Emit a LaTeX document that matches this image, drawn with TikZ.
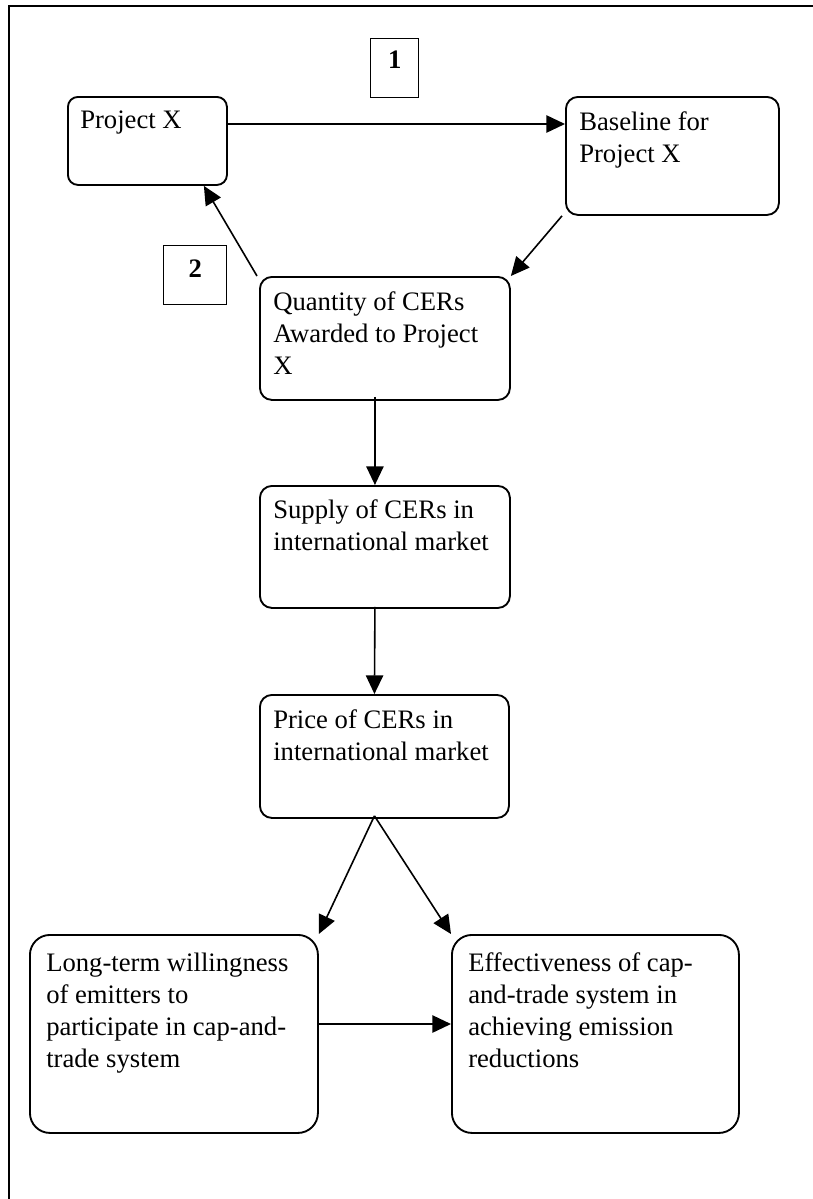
\documentclass[tikz,border=0pt]{standalone}
\usepackage{fontspec}
\setmainfont{Liberation Serif}
\usetikzlibrary{arrows.meta,calc}
\newcommand{\boxtxt}[1]{\parbox[t]{300pt}{\raggedright\fontsize{20}{24}\selectfont #1}}
\begin{document}
\begin{tikzpicture}[x=0.75pt,y=-0.75pt,
  frameline/.style={line width=1.3pt},
  box/.style={draw, line width=1.4pt, rounded corners=#1, inner sep=0pt, anchor=north west},
  lbl/.style={anchor=base west, inner sep=0pt},
  numbox/.style={draw, line width=1pt, inner sep=0pt, anchor=north west},
  numtxt/.style={anchor=base, inner sep=0pt, font=\fontsize{20}{24}\selectfont\bfseries},
  arr/.style={line width=1.2pt, -{Triangle[length=14pt,width=13pt]}}]
\useasboundingbox (0,0) rectangle (813,1199);
\fill[white] (0,0) rectangle (813,1199);
% frame
\coordinate (frtr) at (813,6);
\coordinate (frtl) at (9,6);
\coordinate (frbl) at (9,1199);
\draw[frameline] (frtr) -- (frtl) -- (frbl);
% boxes
\node[box=7.5pt, minimum width=159*0.75pt, minimum height=88*0.75pt] (px) at (67,96) {};
\node[box=9pt, minimum width=213*0.75pt, minimum height=118*0.75pt] (bl) at (565,96) {};
\node[box=9pt, minimum width=250*0.75pt, minimum height=123*0.75pt] (q) at (259,276) {};
\node[box=9pt, minimum width=250*0.75pt, minimum height=122*0.75pt] (s) at (259,485) {};
\node[box=9pt, minimum width=249*0.75pt, minimum height=123*0.75pt] (p) at (259,694) {};
\node[box=15pt, minimum width=288*0.75pt, minimum height=198*0.75pt] (lt) at (29,934) {};
\node[box=15pt, minimum width=287*0.75pt, minimum height=198*0.75pt] (ef) at (451,934) {};
\node[numbox, minimum width=48*0.75pt, minimum height=59*0.75pt] (n1) at (370,38) {};
\node[numbox, minimum width=63*0.75pt, minimum height=59*0.75pt] (n2) at (163,245) {};
% texts
\node[lbl] (pxt) at ($(px.north west)+(13,32)$) {\boxtxt{Project X}};
\node[lbl] (blt) at ($(bl.north west)+(14,34)$) {\boxtxt{Baseline for\\Project X}};
\node[lbl] (qt) at ($(q.north west)+(14,34)$) {\boxtxt{Quantity of CERs\\Awarded to Project\\X}};
\node[lbl] (st) at ($(s.north west)+(14,33)$) {\boxtxt{Supply of CERs in\\international market}};
\node[lbl] (pt) at ($(p.north west)+(14,34)$) {\boxtxt{Price of CERs in\\international market}};
\node[lbl] (ltt) at ($(lt.north west)+(17,37)$) {\boxtxt{Long-term willingness\\of emitters to\\participate in cap-and-\\trade system}};
\node[lbl] (eft) at ($(ef.north west)+(17,37)$) {\boxtxt{Effectiveness of cap-\\and-trade system in\\achieving emission\\reductions}};
\node[numtxt] (n1t) at ($(n1.north)+(0,30)$) {1};
\node[numtxt] (n2t) at ($(n2.north)+(0,32)$) {2};
% connectors
\draw[arr] ($(px.north east)+(0,28)$) -- ($(bl.north west)+(0,28)$);
\draw[arr] ($(bl.south west)+(-3,0)$) -- (q.north east);
\draw[arr] ($(q.north west)+(-2,0)$) -- ($(px.south east)+(-24,0)$);
\draw[arr] ($(q.south)+(-10,-4)$) -- ($(s.north)+(-10,0)$);
\draw[arr] ($(s.south)+(-10,-2)$) -- ($(p.north)+(-10,0)$);
\draw[arr] ($(p.south)+(-10,-3)$) -- (lt.north east);
\draw[arr] ($(p.south)+(-10,-3)$) -- (ef.north west);
\draw[arr] ($(lt.north east)+(0,90)$) -- ($(ef.north west)+(0,90)$);
\end{tikzpicture}
\end{document}
